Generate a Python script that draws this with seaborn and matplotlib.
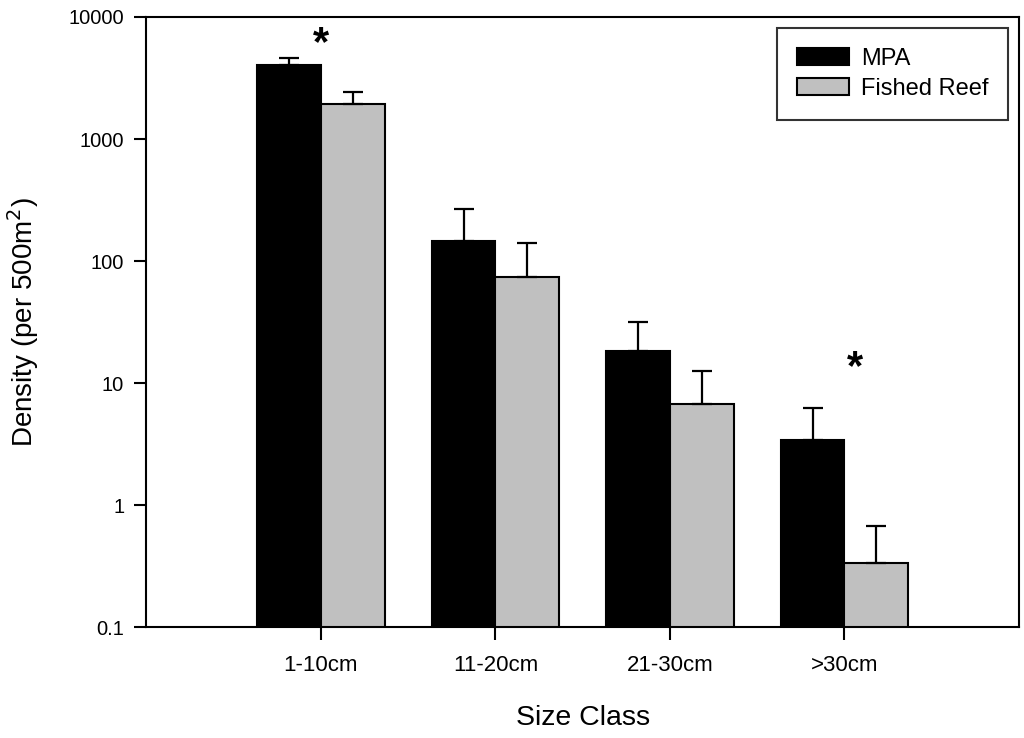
import numpy as np
import pandas as pd
import seaborn as sns
from matplotlib import pyplot as plt
from matplotlib.ticker import FixedLocator, NullLocator

size_classes = ['1-10cm', '11-20cm', '21-30cm', '>30cm']
sites = ['MPA', 'Fished Reef']
mpa_density = [4050, 146, 18.3, 3.4]
mpa_err_top = [4600, 268, 31.5, 6.3]
fished_density = [1930, 74, 6.8, 0.335]
fished_err_top = [2420, 140, 12.5, 0.67]
star_x = [0.0, 3.06]
star_y = [6000, 13.2]

sns.set_theme(style='ticks', rc={'text.color': 'black', 'axes.labelcolor': 'black',
                                 'xtick.color': 'black', 'ytick.color': 'black'})
plt.rcParams['font.family'] = ['Liberation Sans', 'DejaVu Sans']

df = pd.DataFrame({
    'Size Class': size_classes * 2,
    'Site': [sites[0]] * 4 + [sites[1]] * 4,
    'Density': mpa_density + fished_density,
})

fig, ax = plt.subplots(figsize=(10.24, 7.38), dpi=100)
sns.barplot(data=df, x='Size Class', y='Density', hue='Site', order=size_classes,
            hue_order=sites, palette=['black', '#c0c0c0'], width=0.73,
            edgecolor='black', linewidth=1.5, errorbar=None, ax=ax)
ax.set_yscale('log')

# upper error bars only, centred on each bar
tops = mpa_err_top + fished_err_top
vals = mpa_density + fished_density
for patch, v, t in zip(ax.patches[:8], vals, tops):
    cx = patch.get_x() + patch.get_width() / 2
    ax.errorbar(cx, v, yerr=[[0], [t - v]], fmt='none', ecolor='black',
                elinewidth=1.6, capsize=7.5, capthick=1.6, zorder=3)

for x, y in zip(star_x, star_y):
    ax.text(x, y, '*', ha='center', va='center', fontsize=30, fontweight='bold')

ax.set_xlim(-1.0, 4.0)
ax.set_ylim(0.1, 10000)
ax.yaxis.set_major_locator(FixedLocator([0.1, 1, 10, 100, 1000, 10000]))
ax.yaxis.set_minor_locator(NullLocator())
ax.set_yticklabels(['0.1', '1', '10', '100', '1000', '10000'])
ax.tick_params(axis='both', direction='out', length=9, width=1.5)
ax.tick_params(axis='y', labelsize=14.5, pad=7)
ax.tick_params(axis='x', labelsize=16, pad=11)
for s in ax.spines.values():
    s.set_linewidth(1.5)
    s.set_color('black')

ax.set_xlabel('Size Class', fontsize=20.5, labelpad=21)
ax.set_ylabel('Density (per 500m$^2$)', fontsize=20, labelpad=20)

leg = ax.legend(loc='upper right', fontsize=17, frameon=True, fancybox=False,
                edgecolor='black', borderpad=0.85, handlelength=2.2,
                handleheight=0.75, labelspacing=0.35, handletextpad=0.5,
                borderaxespad=0.45)
leg.get_frame().set_linewidth(1.5)
leg.set_title(None)

fig.subplots_adjust(left=0.143, right=0.995, top=0.977, bottom=0.15)
fig.savefig('out.png', dpi=100)
